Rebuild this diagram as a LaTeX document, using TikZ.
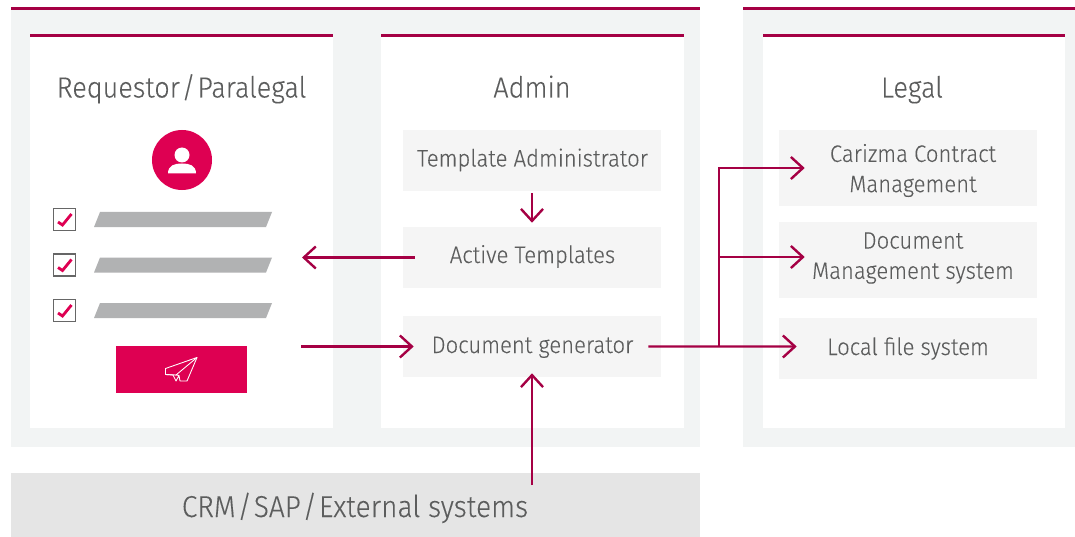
\documentclass[tikz,border=0pt]{standalone}
\usepackage{fontspec}
\setmainfont{Fira Sans Light}[FakeStretch=0.93,FakeBold=0.12]
\usetikzlibrary{arrows.meta}
\definecolor{vino}{HTML}{A50044}
\definecolor{rosa}{HTML}{DE0052}
\definecolor{fondo}{HTML}{F2F4F4}
\definecolor{caja}{HTML}{F5F5F5}
\definecolor{barra}{HTML}{B1B2B3}
\definecolor{texto}{HTML}{5C5D5D}
\newcommand{\sep}{\kern0.06em/\kern0.06em}
\tikzset{
	flecha/.style={draw=vino,line width=0.06cm,-{Straight Barb[length=0.3cm,width=0.55cm,line width=0.06cm]}},
	linea/.style={draw=vino,line width=0.075cm},
	titulo/.style={text=texto,font=\fontsize{20.7}{24}\selectfont,inner sep=0,anchor=base},
	cajatexto/.style={fill=caja,minimum width=6.45cm,inner sep=0},
	etiqueta/.style={text=texto,font=\fontsize{16.9}{21.5}\selectfont,align=center,inner sep=0},
}
\begin{document}
\begin{tikzpicture}[x=0.025cm,y=-0.025cm]
	\useasboundingbox (0,0) rectangle (1075,537);
	%fondos
	\fill [fondo] (11,8) rectangle (700,447);
	\fill [fondo] (743,8) rectangle (1075,447);
	\draw [linea] (11,8.5) -> (700,8.5);
	\draw [linea] (743,8.5) -> (1075,8.5);
	\foreach \xa/\xb in {30/333,381/684,763/1065}{
		\fill [white] (\xa,35) rectangle (\xb,428);
		\draw [linea] (\xa,35.5) -> (\xb,35.5);
	}
	\node[fill=black!10,minimum width=17.225cm,minimum height=1.6cm,inner sep=0] at (355.5,505) (crm) {};
	\node[titulo,font=\fontsize{21.5}{24}\selectfont] at (355,517) (crmtexto) {CRM\sep SAP\sep External systems};
	%titulos
	\node[titulo] at (181.5,97.5) (requestor) {Requestor\sep Paralegal};
	\node[titulo] at (532,97.5) (admin) {Admin};
	\node[titulo] at (912,97.5) (legal) {Legal};
	%cajas admin
	\node[cajatexto,minimum height=1.525cm] at (532,160.5) (plantilla) {};
	\node[cajatexto,minimum height=1.525cm] at (532,257.5) (activas) {};
	\node[cajatexto,minimum height=1.525cm] at (532,346.5) (generador) {};
	\node[etiqueta,anchor=base] at (532.5,166.5) (plantillatexto) {Template Administrator};
	\node[etiqueta,anchor=base] at (532.5,263) (activastexto) {Active Templates};
	\node[etiqueta,anchor=base] at (532.5,353) (generadortexto) {Document generator};
	%cajas legal
	\node[cajatexto,minimum height=1.9cm] at (908,168) (carizma) {};
	\node[cajatexto,minimum height=1.9cm] at (908,260) (gestion) {};
	\node[cajatexto,minimum height=1.525cm] at (908,348.5) (local) {};
	\node[etiqueta] at (913,170.5) (carizmatexto) {Carizma Contract\\Management};
	\node[etiqueta] at (913,258) (gestiontexto) {Document\\Management system};
	\node[etiqueta,anchor=base] at (908,355) (localtexto) {Local file system};
	%usuario
	\node[circle,fill=rosa,minimum size=1.5cm,inner sep=0] at (182,160) (usuario) {};
	\fill [white] (182,155) circle (7.5);
	\fill [white] (168,173.5) .. controls (168,165) and (175,163.5) .. (182,163.5) .. controls (189,163.5) and (196,165) .. (196,173.5) -- cycle;
	%filas
	\foreach \y/\yb in {220/219.5,265.5/265,311/310.5}{
		\draw [black!60,line width=0.03cm,fill=white] (53.5,\yb-11) rectangle (75.5,\yb+11);
		\draw [rosa,line width=0.07cm] (58,\yb+2.5) -- (62.5,\yb+5.5) -- (71.5,\yb-5.5);
		\fill [barra] (100,\y-8) -- (272,\y-8) -- (266,\y+7) -- (94,\y+7) -- cycle;
	}
	%boton
	\node[fill=rosa,minimum width=3.275cm,minimum height=1.175cm,inner sep=0] at (181.5,369.5) (boton) {};
	\draw [white,line width=0.022cm,line join=round] (197,357.5) -- (165.5,368.5) -- (165.5,374.5) -- (173,375) -- (176,381) -- (179,375.5) -- (180,381) -- (187,381) -- cycle;
	\draw [white,line width=0.022cm] (197,357.5) -- (176,375) -- (179,375.5);
	\draw [white,line width=0.022cm] (165.5,374.5) -- (176,375);
	%flechas
	\coordinate (entrada) at (302,257.5);
	\coordinate (salida) at (301,346.5);
	\coordinate (rama) at (719,346.5);
	\coordinate (externo) at (532,485);
	\draw [flecha,shorten <=0.05cm,shorten >=0.1cm] (plantilla.south) -> (activas.north);
	\draw [flecha] ([xshift=0.3cm]activas.west) -> (entrada);
	\draw [flecha] (salida) -> ([xshift=0.275cm]generador.west);
	\draw [flecha] ([xshift=-0.325cm]generador.east) -> ([xshift=0.45cm,yshift=0.05cm]local.west);
	\draw [flecha] (rama) |- ([xshift=0.65cm]carizma.west);
	\draw [flecha] (rama) |- ([xshift=0.65cm,yshift=0.075cm]gestion.west);
	\draw [flecha] (externo) -> ([yshift=0.1cm]generador.south);
\end{tikzpicture}
\end{document}
